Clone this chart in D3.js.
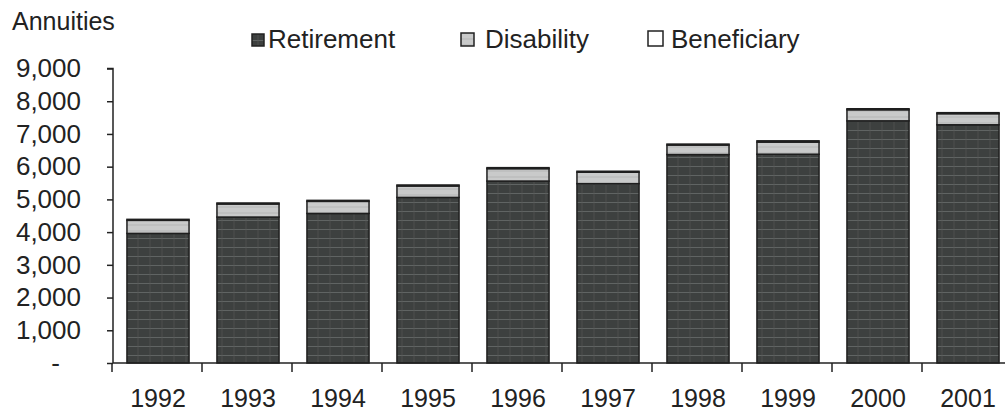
<!DOCTYPE html>
<html>
<head>
<meta charset="utf-8">
<script src="https://cdn.jsdelivr.net/npm/d3@7"></script>
<style>
  html, body { margin: 0; padding: 0; background: #fff; }
  svg { display: block; font-family: "Liberation Sans", Arial, sans-serif; }
</style>
</head>
<body>
<div id="chart"></div>
<script>
// ---- data ----
const years = ["1992","1993","1994","1995","1996","1997","1998","1999","2000","2001"];
const retirement  = [3960, 4460, 4570, 5060, 5560, 5480, 6370, 6380, 7400, 7280];
const disability  = [400, 400, 370, 350, 380, 350, 290, 370, 340, 340];
const beneficiary = [30, 30, 30, 30, 30, 30, 30, 40, 30, 30];
const seriesNames = ["Retirement", "Disability", "Beneficiary"];
const yTicks = [0, 1000, 2000, 3000, 4000, 5000, 6000, 7000, 8000, 9000];

// ---- layout ----
const W = 1005, H = 414;
const mLeft = 113, mRight = 1013, mTop = 68.5, mBottom = 363;

const svg = d3.select("#chart").append("svg").attr("width", W).attr("height", H);

const defs = svg.append("defs");
const pat = defs.append("pattern").attr("id", "ret").attr("patternUnits", "userSpaceOnUse")
  .attr("width", 12).attr("height", 9);
pat.append("rect").attr("width", 12).attr("height", 9).attr("fill", "#3d403f");
pat.append("line").attr("x1", 0).attr("x2", 12).attr("y1", 4.5).attr("y2", 4.5)
  .attr("stroke", "#6a6d6c").attr("stroke-width", 0.8);
pat.append("line").attr("x1", 6).attr("x2", 6).attr("y1", 0).attr("y2", 9)
  .attr("stroke", "#555857").attr("stroke-width", 0.6);
const pat2 = defs.append("pattern").attr("id", "dis").attr("patternUnits", "userSpaceOnUse")
  .attr("width", 8).attr("height", 6);
pat2.append("rect").attr("width", 8).attr("height", 6).attr("fill", "#c9caca");
pat2.append("line").attr("x1", 0).attr("x2", 8).attr("y1", 3).attr("y2", 3)
  .attr("stroke", "#b0b1b1").attr("stroke-width", 0.8);

const fills = ["url(#ret)", "url(#dis)", "#ffffff"];

const x = d3.scaleBand().domain(years).range([mLeft, mRight]).paddingInner(0.31).paddingOuter(0.155);
const y = d3.scaleLinear().domain([0, 9000]).range([mBottom, mTop]);

const rows = years.map((yr, i) => ({ year: yr, Retirement: retirement[i], Disability: disability[i], Beneficiary: beneficiary[i] }));
const stacked = d3.stack().keys(seriesNames)(rows);

// bars
const g = svg.append("g");
stacked.forEach((layer, li) => {
  g.selectAll(null).data(layer).join("rect")
    .attr("x", d => x(d.data.year))
    .attr("width", x.bandwidth())
    .attr("y", d => y(d[1]))
    .attr("height", d => Math.max(0, y(d[0]) - y(d[1])))
    .attr("fill", fills[li])
    .attr("stroke", "#1e1e1e")
    .attr("stroke-width", 1.5);
});

// y axis
const yAxis = d3.axisLeft(y).tickValues(yTicks).tickSize(6).tickPadding(26)
  .tickFormat(d => d === 0 ? "-" : d3.format(",")(d));
const ya = svg.append("g").attr("transform", `translate(${mLeft},0)`).call(yAxis);
ya.select(".domain").attr("d", `M-6,${mTop}H0V${mBottom}`).attr("stroke", "#222").attr("stroke-width", 1.5);
ya.selectAll(".tick line").attr("stroke", "#222").attr("stroke-width", 1.5);
ya.selectAll(".tick text").attr("font-size", 26).attr("fill", "#222")
  .attr("font-family", "Liberation Sans, Arial, sans-serif");
ya.selectAll(".tick").filter(d => d === 0).select("text").attr("dx", -21);

// x axis (ticks between categories)
const xa = svg.append("g").attr("transform", `translate(0,${mBottom})`);
xa.append("line").attr("x1", mLeft).attr("x2", mRight).attr("y1", 0).attr("y2", 0)
  .attr("stroke", "#222").attr("stroke-width", 1.5);
const step = x.step();
xa.selectAll(".xt").data(years).join("line")
  .attr("x1", d => x(d) - (x.paddingInner() * step) / 2 - 1)
  .attr("x2", d => x(d) - (x.paddingInner() * step) / 2 - 1)
  .attr("y1", 0).attr("y2", 9).attr("stroke", "#222").attr("stroke-width", 1.5);
xa.selectAll(".xl").data(years).join("text")
  .attr("x", d => x(d) + x.bandwidth() / 2)
  .attr("y", 44)
  .attr("text-anchor", "middle")
  .attr("font-size", 25).attr("fill", "#222")
  .text(d => d);

// title
svg.append("text").attr("x", 12).attr("y", 30).attr("font-size", 25).attr("fill", "#222").text("Annuities");

// legend
const legBoxX = [252, 461, 648];
const legBoxS = [12, 13, 15];
const legTextX = [268, 485, 671];
const leg = svg.append("g");
seriesNames.forEach((name, i) => {
  leg.append("rect").attr("x", legBoxX[i]).attr("y", 46 - legBoxS[i]).attr("width", legBoxS[i]).attr("height", legBoxS[i])
    .attr("fill", fills[i]).attr("stroke", "#222").attr("stroke-width", 1.5);
  leg.append("text").attr("x", legTextX[i]).attr("y", 48).attr("font-size", 26).attr("fill", "#222").text(name);
});
</script>
</body>
</html>
